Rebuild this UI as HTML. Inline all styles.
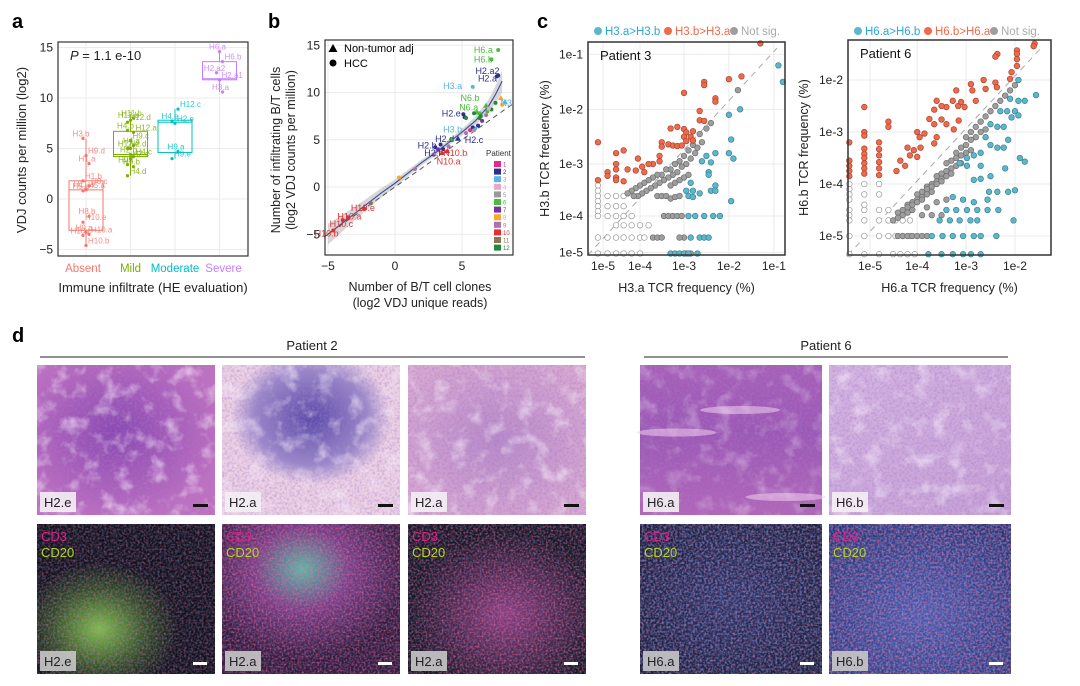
<!DOCTYPE html>
<html><head><meta charset="utf-8">
<style>
html,body{margin:0;padding:0;background:#fff;}
svg{display:block;font-family:"Liberation Sans",Arial,sans-serif;}
</style></head>
<body>
<svg id="fig" width="1080" height="686" viewBox="0 0 1080 686" xmlns="http://www.w3.org/2000/svg">
<defs>
  <filter id="tex" x="0" y="0" width="100%" height="100%">
    <feTurbulence type="fractalNoise" baseFrequency="0.06" numOctaves="4" seed="3"/>
    <feColorMatrix type="matrix" values="0 0 0 0 0.95  0 0 0 0 0.85  0 0 0 0 0.97  0 0 0 -2.6 1.3"/>
  </filter>
  <filter id="texD" x="0" y="0" width="100%" height="100%">
    <feTurbulence type="fractalNoise" baseFrequency="0.4" numOctaves="2" seed="5"/>
    <feColorMatrix type="matrix" values="0 0 0 0 0.35  0 0 0 0 0.2  0 0 0 0 0.6  0 0 0 -2.2 1.3"/>
  </filter>
  <filter id="texB" x="0" y="0" width="100%" height="100%">
    <feTurbulence type="fractalNoise" baseFrequency="0.45" numOctaves="2" seed="7"/>
    <feColorMatrix type="matrix" values="0 0 0 0 0.3  0 0 0 0 0.35  0 0 0 0 0.9  0 0 0 -2.4 1.5"/>
  </filter>
  <filter id="texR" x="0" y="0" width="100%" height="100%">
    <feTurbulence type="fractalNoise" baseFrequency="0.5" numOctaves="1" seed="11"/>
    <feColorMatrix type="matrix" values="0 0 0 0 0.95  0 0 0 0 0.15  0 0 0 0 0.3  0 0 0 -3 1.6"/>
  </filter>
  <radialGradient id="g1" cx="0.45" cy="0.45" r="0.6"><stop offset="0" stop-color="#8a48b0"/><stop offset="1" stop-color="#c070c0"/></radialGradient>
  <radialGradient id="g2" cx="0.5" cy="0.35" r="0.45"><stop offset="0" stop-color="#5a4aa8"/><stop offset="0.7" stop-color="#9a88c8"/><stop offset="1" stop-color="#ecd0e4"/></radialGradient>
  <radialGradient id="g3" cx="0.5" cy="0.5" r="0.6"><stop offset="0" stop-color="#b88ac8"/><stop offset="1" stop-color="#d8a8d0"/></radialGradient>
  <linearGradient id="g4" x1="0" y1="0" x2="0" y2="1"><stop offset="0" stop-color="#a85fb8"/><stop offset="0.45" stop-color="#9c58b4"/><stop offset="1" stop-color="#b266b8"/></linearGradient>
  <linearGradient id="g5" x1="0" y1="0" x2="1" y2="1"><stop offset="0" stop-color="#d4b4e0"/><stop offset="1" stop-color="#c6a0d6"/></linearGradient>
  <radialGradient id="f1" cx="0.35" cy="0.7" r="0.45"><stop offset="0" stop-color="#7ac040"/><stop offset="0.6" stop-color="#304a20"/><stop offset="1" stop-color="#101018"/></radialGradient>
  <radialGradient id="f2" cx="0.45" cy="0.3" r="0.6"><stop offset="0" stop-color="#5ab8a0"/><stop offset="0.45" stop-color="#7a3a80"/><stop offset="1" stop-color="#301838"/></radialGradient>
  <radialGradient id="f3" cx="0.55" cy="0.6" r="0.55"><stop offset="0" stop-color="#8a3a7a"/><stop offset="1" stop-color="#141420"/></radialGradient>
  <radialGradient id="f4" cx="0.5" cy="0.5" r="0.7"><stop offset="0" stop-color="#2a3260"/><stop offset="1" stop-color="#181c34"/></radialGradient>
  <radialGradient id="f5" cx="0.5" cy="0.6" r="0.7"><stop offset="0" stop-color="#4858a8"/><stop offset="1" stop-color="#2a3470"/></radialGradient>
</defs>
<g id="root"></g>
</svg>
<script>
// ---------------- Panel a data ----------------
const aCategories = ["Absent","Mild","Moderate","Severe"];
const aCatColors = ["#f8766d","#7cae00","#00bfc4","#c77cff"];
const aBoxLow = [-3.1, 4.2, 4.6, 11.8];
const aBoxHigh = [1.8, 6.7, 7.8, 13.6];
const aBoxMed = [0.9, 4.4, 7.6, 11.9];
const aLabels = ["H3.b","H9.d","H1.a","H1.b","H11.a","H8.c","H5.b","H5.a","H8.b","H10.e","H9.a","H10.a","H10.c","H10.b",
 "H11.b","H12.d","H12.b","H12.a","H4.b","H9.c","H4.a","H2.d","H12.e","H4.c","H9.f","H2.c","H9.b","H4.d","H2.b",
 "H12.c","H4.e","H2.e","H9.a","H9.e",
 "H6.a","H6.b","H2.a2","H2.a1","H3.a"];
const aCat = [0,0,0,0,0,0,0,0,0,0,0,0,0,0, 1,1,1,1,1,1,1,1,1,1,1,1,1,1,1, 2,2,2,2,2, 3,3,3,3,3];
const aValues = [6.0,4.3,3.5,1.8,1.0,1.3,0.8,0.9,-1.7,-2.3,-3.3,-3.5,-3.6,-4.6,
 8.0,7.6,7.8,6.6,6.8,5.8,5.3,5.0,5.0,4.2,3.4,4.0,3.2,2.3,4.4,
 8.9,7.7,7.5,4.7,4.0,
 14.6,13.6,12.5,11.8,10.6];
const aYTicks = [15,10,5,0,-5];

// ---------------- Panel b data ----------------
const bPatientColors = ["#e7298a","#2c2f8f","#5ab4e5","#e8a8c8","#9a9a9a","#4dbb3c","#7b2fa0","#f7a830","#b070b0","#e03030","#8b7355","#1e8a3a"];
const bX = [7.7,7.2,7.7,7.6,5.8,8.2,7.9,8.0,6.8,7.5,7.2,6.9,6.3,6.1,5.1,5.2,5.3,5.9,6.4,6.3,6.5,6.8,7.0,6.2,6.0,5.6,5.8,5.9,5.3,4.7,4.2,3.0,3.4,3.2,3.6,3.9,3.5,2.9,4.0,1.5,0.3,-1.8,-2.3,-3.5,-3.9,-4.6];
const bY = [14.5,13.5,11.8,11.7,10.6,9.0,9.4,8.7,8.6,8.9,8.2,8.0,7.8,7.9,7.7,7.4,7.3,7.8,7.5,7.3,7.0,7.6,8.3,6.5,6.2,6.0,6.3,6.0,5.7,5.1,5.0,4.2,4.5,4.0,4.0,3.8,3.6,3.4,4.3,1.9,1.0,-1.7,-2.3,-3.2,-3.5,-4.6];
const bPatient = [6,6,2,2,3,3,8,8,6,12,12,6,6,6,2,2,12,12,12,12,7,9,4,2,3,1,2,5,9,2,6,2,2,7,2,10,10,9,9,9,8,11,10,10,10,10];
const bShape = [0,0,0,0,0,1,1,0,1,0,0,0,0,1,0,0,0,0,0,0,0,0,0,0,0,0,0,0,0,1,0,0,0,0,0,1,1,0,0,0,0,0,0,0,0,0];
const bLabelText = ["H6.a","H6.b","H2.a2","H2.a","H3.a","N3","N6.b","N6.a","H2.e","H3.b","H2.c","H2.d","H2.b","H2.f","N10.b","N10.a","H10.e","H10.a","H10.c","H10.b"];
const bLabelX = [6.6,6.6,6.9,6.9,4.3,8.3,5.6,5.5,4.2,4.3,5.9,3.7,2.4,2.8,4.5,4.0,-2.4,-3.4,-4.0,-5.1];
const bLabelY = [14.5,13.5,12.3,11.5,10.7,8.9,9.4,8.4,7.8,6.1,5.0,5.1,4.4,3.6,3.6,2.7,-2.2,-3.1,-3.9,-4.9];
const bLabelPat = [6,6,2,2,3,3,6,6,2,3,2,2,2,2,10,10,10,10,10,10];
const bFitX = [-5,-4,-3,-2,-1,0,1,2,3,4,5,6,7,7.5,8];
const bFitY = [-5,-3.9,-2.8,-1.7,-0.6,0.4,1.5,2.6,3.6,4.7,5.8,7.0,8.6,9.8,11.2];
const bFitSE = [1.1,0.9,0.7,0.6,0.5,0.4,0.35,0.3,0.3,0.3,0.35,0.45,0.7,0.9,1.2];
const bXTicks = [-5,0,5];
const bYTicks = [15,10,5,0,-5];

// ---------------- Panel c data (log10 frequency) ----------------
const c3RedX = [-1.3,-2.55,-2.55,-2.0,-1.72,-3.0,-2.3,-2.3,-2.65,-2.65,-2.55,-3.3,-3.15,-3.0,-2.95,-2.8,-3.0,-2.85,-2.95,-2.8,-3.5,-3.5,-3.35,-3.25,-3.15,-3.05,-3.55,-3.55,-3.7,-4.6,-4.4,-4.05,-3.95,-3.8,-4.6,-4.6,-4.3,-4.1,-3.9,-4.85,-4.85,-4.6,-4.6,-4.4,-5.2,-5.2];
const c3RedY = [-0.8,-1.5,-1.56,-1.45,-1.4,-1.7,-1.8,-1.86,-2.03,-2.2,-2.21,-2.35,-2.32,-2.36,-2.42,-2.4,-2.5,-2.5,-2.58,-2.57,-2.6,-2.68,-2.64,-2.66,-2.67,-2.66,-2.85,-2.95,-3.0,-2.8,-2.75,-2.9,-3.05,-3.0,-3.0,-3.1,-3.1,-3.12,-3.15,-3.15,-3.22,-3.25,-3.3,-3.32,-2.6,-3.3];
const c3BlueX = [-0.9,-0.8,-1.75,-2.0,-1.95,-2.0,-1.9,-2.3,-2.5,-2.6,-2.4,-2.45,-2.45,-2.85,-2.95,-2.8,-2.9,-2.8,-2.65,-2.3,-2.4,-2.3,-1.95,-2.9,-2.75,-2.55,-2.35,-2.2,-2.85,-2.65,-2.55,-2.45,-3.3,-3.2,-3.1,-3.0,-2.9,-2.7];
const c3BlueY = [-1.2,-1.5,-2.0,-2.1,-2.55,-2.8,-2.9,-2.8,-2.85,-2.95,-2.97,-3.15,-3.2,-3.35,-3.5,-3.5,-3.6,-3.62,-3.55,-3.4,-3.5,-3.5,-3.7,-4.0,-4.0,-4.0,-4.0,-4.0,-4.5,-4.5,-4.5,-4.5,-5.05,-5.05,-5.05,-5.05,-5.05,-5.05];
const c3GreyX = [-1.8,-2.4,-2.5,-2.65,-2.6,-2.7,-2.8,-2.9,-2.75,-2.85,-3.0,-3.1,-2.95,-3.05,-3.2,-3.3,-3.15,-3.25,-3.4,-3.5,-3.35,-3.45,-3.6,-3.7,-3.55,-3.65,-3.8,-3.9,-3.75,-3.85,-4.0,-4.1,-3.95,-4.05,-4.2,-4.3,-4.15,-3.3,-3.2,-3.1,-3.0,-2.9,-3.6,-3.5,-3.4,-3.3,-3.2,-3.1,-3.45,-3.35,-3.25,-3.15,-3.05,-3.7,-3.6,-3.5,-2.95,-2.85,-3.0,-3.1];
const c3GreyY = [-1.65,-2.25,-2.35,-2.45,-2.6,-2.7,-2.65,-2.75,-2.8,-2.9,-2.85,-2.95,-3.0,-3.05,-3.0,-3.1,-3.15,-3.2,-3.1,-3.2,-3.25,-3.3,-3.2,-3.25,-3.35,-3.4,-3.3,-3.35,-3.45,-3.5,-3.4,-3.45,-3.55,-3.6,-3.5,-3.55,-3.6,-3.4,-3.35,-3.3,-3.25,-3.2,-3.6,-3.6,-3.6,-3.65,-3.62,-3.6,-4.0,-4.0,-4.0,-4.0,-4.0,-4.5,-4.5,-4.5,-5.05,-5.05,-4.5,-4.5];
const c3OpenX = [-5.2,-5.2,-5.2,-5.2,-5.2,-5.2,-5.2,-5.2,-4.85,-4.6,-4.4,-4.85,-4.6,-4.4,-4.85,-4.6,-4.4,-4.2,-4.85,-4.6,-4.4,-4.2,-4.0,-3.9,-4.6,-4.4,-4.2,-4.0,-4.85,-4.6,-4.4,-4.2,-4.0,-3.8,-5.2];
const c3OpenY = [-3.4,-3.5,-3.6,-3.7,-3.8,-3.9,-4.0,-4.5,-3.6,-3.6,-3.6,-3.8,-3.8,-3.8,-4.0,-4.0,-4.0,-4.0,-4.5,-4.5,-4.5,-4.5,-4.5,-4.5,-5.05,-5.05,-5.05,-5.05,-5.05,-4.2,-4.2,-4.2,-4.2,-4.2,-5.05];

const c6RedX = [-1.6,-1.62,-1.96,-1.96,-1.96,-1.96,-2.36,-2.4,-2.07,-2.1,-2.4,-2.37,-2.64,-2.6,-2.9,-2.87,-3.2,-3.27,-3.16,-3.4,-3.5,-3.65,-3.6,-3.1,-3.03,-2.8,-3.75,-3.65,-3.5,-3.4,-3.25,-3.15,-4.0,-3.95,-3.85,-3.6,-3.65,-4.2,-4.07,-3.93,-4.15,-4.0,-4.35,-4.25,-4.43,-4.6,-4.6,-4.8,-4.8,-4.8,-4.8,-4.8,-4.8,-5.13,-5.13,-5.13,-5.13,-5.13,-5.13,-5.13,-5.13,-5.13,-5.5,-5.5,-5.5,-5.5,-5.5];
const c6RedY = [-1.3,-1.35,-1.43,-1.5,-1.6,-1.73,-1.5,-1.55,-1.85,-1.98,-2.05,-2.14,-2.0,-2.17,-2.08,-2.2,-2.2,-2.4,-2.5,-2.52,-2.5,-2.57,-2.4,-2.42,-2.52,-2.4,-2.75,-2.85,-2.76,-2.85,-2.95,-2.78,-3.0,-3.1,-3.03,-3.1,-3.22,-3.3,-3.35,-3.3,-3.45,-3.48,-3.55,-3.65,-3.75,-2.8,-2.9,-3.2,-3.33,-3.45,-3.58,-3.7,-3.83,-2.52,-3.0,-3.07,-3.32,-3.42,-3.5,-3.6,-3.7,-3.8,-3.2,-3.55,-3.65,-3.75,-3.85];
const c6BlueX = [-1.57,-1.9,-1.8,-1.93,-2.1,-1.93,-1.8,-2.3,-2.16,-2.0,-2.07,-1.93,-2.5,-2.36,-2.23,-2.14,-2.6,-2.5,-2.36,-2.23,-2.7,-2.84,-2.98,-3.13,-2.98,-2.7,-2.2,-2.5,-2.7,-2.84,-2.14,-2.0,-2.36,-2.53,-3.27,-3.06,-2.84,-2.56,-2.34,-3.4,-3.2,-2.98,-2.77,-2.56,-3.54,-3.33,-3.13,-2.91,-2.77,-2.03,-3.7,-3.48,-3.27,-3.06,-2.84,-2.7,-2.38,-3.77,-3.5,-3.27,-3.06,-2.9,-2.7];
const c6BlueY = [-2.29,-3.5,-3.57,-2.0,-2.36,-2.4,-2.4,-2.6,-2.6,-2.6,-2.72,-2.68,-2.85,-2.9,-2.9,-3.15,-3.1,-3.25,-3.3,-3.3,-3.4,-3.45,-3.5,-3.6,-3.65,-3.65,-3.7,-3.85,-3.9,-3.92,-4.15,-4.12,-4.15,-4.15,-4.25,-4.3,-4.35,-4.3,-4.5,-4.5,-4.5,-4.5,-4.5,-4.5,-4.7,-4.7,-4.7,-4.7,-4.7,-4.7,-5.0,-5.0,-5.0,-5.0,-5.0,-5.0,-5.0,-5.35,-5.35,-5.35,-5.35,-5.35,-5.35];
const c6GreyX = [-2.0,-2.1,-2.2,-2.3,-2.4,-2.5,-2.6,-2.7,-2.8,-2.9,-3.0,-2.6,-2.7,-2.8,-2.9,-3.0,-3.1,-3.2,-2.9,-3.0,-3.1,-3.2,-3.3,-3.4,-3.1,-3.2,-3.3,-3.4,-3.5,-3.6,-3.3,-3.4,-3.5,-3.6,-3.7,-3.8,-3.5,-3.6,-3.7,-3.8,-3.9,-4.0,-3.7,-3.8,-3.9,-4.0,-4.1,-4.2,-3.9,-4.0,-4.1,-4.2,-4.3,-4.4,-4.1,-4.2,-4.3,-4.4,-4.5,-3.8,-3.6,-3.4,-3.9,-3.7,-3.5,-4.4,-4.3,-4.2,-4.1,-4.0,-3.9,-3.8];
const c6GreyY = [-2.1,-2.2,-2.3,-2.4,-2.5,-2.6,-2.7,-2.8,-2.9,-3.0,-3.1,-2.95,-3.0,-3.1,-3.15,-3.25,-3.3,-3.4,-3.35,-3.4,-3.45,-3.5,-3.55,-3.6,-3.6,-3.65,-3.7,-3.75,-3.8,-3.85,-3.8,-3.85,-3.9,-3.95,-4.0,-4.05,-3.95,-4.0,-4.05,-4.1,-4.15,-4.2,-4.15,-4.2,-4.25,-4.3,-4.35,-4.4,-4.3,-4.35,-4.4,-4.45,-4.5,-4.55,-4.5,-4.55,-4.6,-4.65,-4.7,-4.45,-4.35,-4.3,-4.6,-4.6,-4.6,-5.0,-5.0,-5.0,-5.0,-5.0,-5.0,-5.0];
const c6OpenX = [-5.5,-5.5,-5.5,-5.5,-5.5,-5.5,-5.5,-5.5,-5.13,-5.13,-5.13,-5.13,-5.13,-5.13,-4.8,-4.8,-4.8,-4.8,-4.8,-4.6,-4.6,-4.6,-4.45,-4.45,-4.3,-4.3,-4.15,-4.15,-4.5,-4.35,-4.2,-4.05,-4.8,-5.13,-5.5];
const c6OpenY = [-4.0,-4.1,-4.2,-4.3,-4.5,-4.7,-5.0,-5.35,-4.0,-4.2,-4.4,-4.5,-4.7,-5.0,-4.0,-4.2,-4.5,-4.7,-5.0,-4.5,-4.7,-5.0,-4.7,-5.0,-4.7,-5.0,-4.7,-5.0,-5.35,-5.35,-5.35,-5.35,-5.35,-5.35,-4.6];
const cTickLabels3X = ["1e-5","1e-4","1e-3","1e-2","1e-1"];
const cTickValues3X = [-5,-4,-3,-2,-1];
const cTickLabels3Y = ["1e-1","1e-2","1e-3","1e-4","1e-5"];
const cTickValues3Y = [-1,-2,-3,-4,-5];
const cTickLabels6X = ["1e-5","1e-4","1e-3","1e-2"];
const cTickValues6X = [-5,-4,-3,-2];
const cTickLabels6Y = ["1e-2","1e-3","1e-4","1e-5"];
const cTickValues6Y = [-2,-3,-4,-5];

const NS = "http://www.w3.org/2000/svg";
const root = document.getElementById("root");
function mk(tag, attrs, parent, txt){
  const e = document.createElementNS(NS, tag);
  for (const k in attrs) e.setAttribute(k, attrs[k]);
  if (txt !== undefined) e.textContent = txt;
  (parent || root).appendChild(e);
  return e;
}
function grp(name){
  const g = mk("g", {});
  
  
  return g;
}
function txt(parent, x, y, s, size, extra){
  const a = Object.assign({x:x, y:y, "font-size":size, fill:"#222"}, extra || {});
  return mk("text", a, parent, s);
}

[["a",12,28],["b",268,28],["c",537,28],["d",12,342]].forEach(l=>{
  const t = txt(root, l[1], l[2], l[0], 20, {"font-weight":"bold", fill:"#000"});
  
  
});

// ================= Panel a =================
(function(){
  const g = grp("panel-a-chart");
  const L=58, R=248, T=42, B=256;
  const ya = v => 199 - 10.1*v;
  const xa = i => 86 + 44.5*i;
  mk("rect",{x:L,y:T,width:R-L,height:B-T,fill:"#fff"},g);
  aYTicks.forEach(v=>{ mk("line",{x1:L,x2:R,y1:ya(v),y2:ya(v),stroke:"#ebebeb","stroke-width":1},g);
    const t=txt(g,53,ya(v)+4,v<0?"\u2212"+(-v):String(v),12,{"text-anchor":"end"});
     });
  aCategories.forEach((c,i)=>{ mk("line",{x1:xa(i),x2:xa(i),y1:T,y2:B,stroke:"#ebebeb"},g);
    const t=txt(g,xa(i)-(i===0?3:0)+(i===3?4:0),272,c,11.5,{"text-anchor":"middle",fill:aCatColors[i]});
     });
  aCategories.forEach((c,i)=>{
    const b = mk("rect",{x:xa(i)-17,y:ya(aBoxHigh[i]),width:34,height:ya(aBoxLow[i])-ya(aBoxHigh[i]),fill:"none",stroke:aCatColors[i],"stroke-width":1},g);
     
    mk("line",{x1:xa(i)-17,x2:xa(i)+17,y1:ya(aBoxMed[i]),y2:ya(aBoxMed[i]),stroke:aCatColors[i]},g);
    const vals = aValues.filter((v,k)=>aCat[k]===i);
    mk("line",{x1:xa(i),x2:xa(i),y1:ya(Math.max(...vals)),y2:ya(aBoxHigh[i]),stroke:aCatColors[i]},g);
    mk("line",{x1:xa(i),x2:xa(i),y1:ya(aBoxLow[i]),y2:ya(Math.min(...vals)),stroke:aCatColors[i]},g);
  });
  aValues.forEach((v,k)=>{
    const i=aCat[k], col=aCatColors[i];
    const off = ((k%3)-1)*3;
    const p = mk("circle",{cx:xa(i)+off,cy:ya(v),r:1.6,fill:col},g);
     
    const right = k%2===0;
    const t = txt(g, xa(i)+off+(right?-2:2), ya(v)-2, aLabels[k], 8, {fill:col,"text-anchor":right?"middle":"start","fill-opacity":0.85});
     
  });
  mk("rect",{x:L,y:T,width:R-L,height:B-T,fill:"none",stroke:"#333","stroke-width":1.2},g);
  const p=txt(g,70,60,"",13,{});
  mk("tspan",{"font-style":"italic"},p,"P");
  mk("tspan",{},p," = 1.1 e-10");
   
  const yt=txt(g,0,0,"VDJ counts per million (log2)",13,{transform:"translate(26,150) rotate(-90)","text-anchor":"middle"});
   
  const xt=txt(g,153,292,"Immune infiltrate (HE evaluation)",13,{"text-anchor":"middle"});
   
})();

// ================= Panel b =================
(function(){
  const g = grp("panel-b-chart");
  const L=325, R=513, T=40, B=255;
  const xb = v => 395 + 13.4*v;
  const yb = v => 187 - 9.45*v;
  bYTicks.forEach(v=>{ mk("line",{x1:L,x2:R,y1:yb(v),y2:yb(v),stroke:"#ebebeb"},g);
    const t=txt(g,320,yb(v)+4,v<0?"\u2212"+(-v):String(v),12,{"text-anchor":"end"});
     });
  bXTicks.forEach(v=>{ mk("line",{x1:xb(v),x2:xb(v),y1:T,y2:B,stroke:"#ebebeb"},g);
    const t=txt(g,xb(v),270,v<0?"\u2212"+(-v):String(v),12,{"text-anchor":"middle"});
     });
  let d="M"+bFitX.map((x,i)=>xb(x)+","+yb(bFitY[i]+bFitSE[i])).join(" L");
  for(let i=bFitX.length-1;i>=0;i--) d+=" L"+xb(bFitX[i])+","+yb(bFitY[i]-bFitSE[i]);
  const band=mk("path",{d:d+"Z",fill:"#bdbdbd","fill-opacity":0.6},g);
   
  const idl=mk("line",{x1:xb(-5.3),y1:yb(-5.3),x2:xb(8.8),y2:yb(8.8),stroke:"#555","stroke-dasharray":"5,4","stroke-width":1},g);
   
  const fit=mk("path",{d:"M"+bFitX.map((x,i)=>xb(x)+","+yb(bFitY[i])).join(" L"),fill:"none",stroke:"#4050a0","stroke-width":1.2},g);
   
  bX.forEach((x,i)=>{
    const col=bPatientColors[bPatient[i]-1];
    let e;
    if(bShape[i]===1){ const cx=xb(x), cy=yb(bY[i]);
      e=mk("path",{d:`M${cx},${cy-3} L${cx+3},${cy+2} L${cx-3},${cy+2}Z`,fill:col},g);
    } else e=mk("circle",{cx:xb(x),cy:yb(bY[i]),r:2,fill:col},g);
     
  });
  bLabelText.forEach((s,i)=>{
    const t=txt(g,xb(bLabelX[i]),yb(bLabelY[i])+3,s,9,{fill:bPatientColors[bLabelPat[i]-1],"text-anchor":"middle"});
     
  });
  mk("rect",{x:L,y:T,width:R-L,height:B-T,fill:"none",stroke:"#333","stroke-width":1.2},g);
  const lg=grp("shape-legend");
  mk("path",{d:"M333,44 L337.5,52 L328.5,52Z",fill:"#000"},lg);
  txt(lg,344,52,"Non-tumor adj",11,{fill:"#000"});
  mk("circle",{cx:333,cy:63,r:3.5,fill:"#000"},lg);
  txt(lg,344,67,"HCC",11,{fill:"#000"});
  const pl=grp("patient-legend");
  txt(pl,486,156,"Patient",8,{fill:"#333"});
  bPatientColors.forEach((c,i)=>{
    const r=mk("rect",{x:494,y:161+i*7.6,width:7,height:6,fill:c},pl);
     
    txt(pl,503,166.5+i*7.6,String(i+1),6,{fill:c});
  });
  const yt1=txt(g,0,0,"Number of infiltrating B/T cells",12.5,{transform:"translate(280,150) rotate(-90)","text-anchor":"middle"});
   
  const yt2=txt(g,0,0,"(log2 VDJ counts per million)",12.5,{transform:"translate(295,150) rotate(-90)","text-anchor":"middle"});
   
  const xt1=txt(g,420,291,"Number of B/T cell clones",12.5,{"text-anchor":"middle"});
   
  const xt2=txt(g,420,307,"(log2 VDJ unique reads)",12.5,{"text-anchor":"middle"});
   
})();

// ================= Panel c =================
function scatterPanel(o){
  const g = grp(o.name);
  const xs = lv => o.xAnchor + o.kx*(Math.log10(Math.pow(10,lv)+o.cx) - Math.log10(1e-3+o.cx));
  const ys = lv => o.yAnchor - o.ky*(Math.log10(Math.pow(10,lv)+o.cy) - Math.log10(1e-3+o.cy));
  mk("rect",{x:o.L,y:o.T,width:o.R-o.L,height:o.B-o.T,fill:"#fff"},g);
  o.xv.forEach((v,i)=>{ mk("line",{x1:xs(v),x2:xs(v),y1:o.T,y2:o.B,stroke:"#ebebeb"},g);
    const t=txt(g,xs(v),o.B+15,o.xl[i],12,{"text-anchor":"middle"});
     });
  o.yv.forEach((v,i)=>{ mk("line",{x1:o.L,x2:o.R,y1:ys(v),y2:ys(v),stroke:"#ebebeb"},g);
    const t=txt(g,o.L-5,ys(v)+4,o.yl[i],12,{"text-anchor":"end"});
     });
  const dg=mk("line",{x1:o.L,y1:o.B,x2:o.R-8,y2:o.T+6,stroke:"#aaa","stroke-dasharray":"6,5"},g);
   
  function pts(X,Y,fill,stroke,name){
    X.forEach((x,i)=>{
      const px=Math.max(o.L,Math.min(o.R,xs(x))), py=Math.max(o.T,Math.min(o.B,ys(Y[i])));
      const c=mk("circle",{cx:px,cy:py,r:2.8,fill:fill,stroke:stroke,"stroke-width":0.7},g);
       
    });
  }
  pts(o.openX,o.openY,"#fff","#999","clone-point-zero");
  pts(o.greyX,o.greyY,"#9e9e9e","#6e6e6e","clone-point-not-sig");
  pts(o.blueX,o.blueY,"#5bb8cc","#3a7f90","clone-point-a-greater");
  pts(o.redX,o.redY,"#ee6a4a","#a84430","clone-point-b-greater");
  mk("rect",{x:o.L,y:o.T,width:o.R-o.L,height:o.B-o.T,fill:"none",stroke:"#333","stroke-width":1.5},g);
  const pt=txt(g,o.L+12,o.T+18,o.patient,13,{fill:"#111"});
   
  const items=[[o.leg[0],"#5bb8cc","#2aa8d0"],[o.leg[1],"#ee6a4a","#ee6a4a"],["Not sig.","#9e9e9e","#aaa"]];
  let cx=o.legX;
  items.forEach((it,i)=>{
    const c=mk("circle",{cx:cx,cy:31,r:4,fill:it[1]},g);
     
    const t=txt(g,cx+7,35,it[0],11.5,{fill:it[2]});
     
    cx+= o.legStep[i];
  });
  const yt=txt(g,0,0,o.yTitle,12.5,{transform:`translate(${o.yTitleX},${(o.T+o.B)/2}) rotate(-90)`,"text-anchor":"middle"});
   
  const xt=txt(g,(o.L+o.R)/2,292,o.xTitle,12.5,{"text-anchor":"middle"});
   
}
scatterPanel({name:"panel-c-patient3-scatter",L:588,R:785,T:42,B:255,xAnchor:684,kx:45,cx:0.6e-5,yAnchor:164,ky:55,cy:1.5e-5,
  xv:cTickValues3X,xl:cTickLabels3X,yv:cTickValues3Y,yl:cTickLabels3Y,
  redX:c3RedX,redY:c3RedY,blueX:c3BlueX,blueY:c3BlueY,greyX:c3GreyX,greyY:c3GreyY,openX:c3OpenX,openY:c3OpenY,
  patient:"Patient 3",leg:["H3.a>H3.b","H3.b>H3.a"],legX:598,legStep:[70,66,0],
  yTitle:"H3.b TCR frequency (%)",yTitleX:549,xTitle:"H3.a TCR frequency (%)"});
scatterPanel({name:"panel-c-patient6-scatter",L:848,R:1051,T:40,B:255,xAnchor:966,kx:49,cx:1e-6,yAnchor:132,ky:52,cy:0,
  xv:cTickValues6X,xl:cTickLabels6X,yv:cTickValues6Y,yl:cTickLabels6Y,
  redX:c6RedX,redY:c6RedY,blueX:c6BlueX,blueY:c6BlueY,greyX:c6GreyX,greyY:c6GreyY,openX:c6OpenX,openY:c6OpenY,
  patient:"Patient 6",leg:["H6.a>H6.b","H6.b>H6.a"],legX:858,legStep:[70,66,0],
  yTitle:"H6.b TCR frequency (%)",yTitleX:808,xTitle:"H6.a TCR frequency (%)"});

// ================= Panel d =================
(function(){
  const g=grp("panel-d-images");
  const h1=txt(g,312,350,"Patient 2",13,{"text-anchor":"middle"});
   
  mk("line",{x1:40,x2:585,y1:357,y2:357,stroke:"#222","stroke-width":1},g);
  const h2=txt(g,826,350,"Patient 6",13,{"text-anchor":"middle"});
   
  mk("line",{x1:644,x2:1008,y1:357,y2:357,stroke:"#222","stroke-width":1},g);
  const cols=[[37,178],[222,178],[408,178],[640,182],[829,182]];
  const he=["g1","g2","g3","g4","g5"], fl=["f1","f2","f3","f4","f5"];
  const labs=["H2.e","H2.a","H2.a","H6.a","H6.b"];
  cols.forEach((c,i)=>{
    const [x,w]=c;
    const top=grp("he-image-"+labs[i]);
    mk("rect",{x:x,y:365,width:w,height:150,fill:"url(#"+he[i]+")"},top);
    mk("rect",{x:x,y:365,width:w,height:150,filter:"url(#texD)",opacity:0.5},top);
    mk("rect",{x:x,y:365,width:w,height:150,filter:"url(#tex)",opacity:i===3?0.35:0.6},top);
    if(i===3){ [[0.2,0.45],[0.55,0.3],[0.8,0.88]].forEach(s=>mk("ellipse",{cx:x+w*s[0],cy:365+150*s[1],rx:w*0.22,ry:4,fill:"#f0d0ec",opacity:0.55},top)); }
    mk("rect",{x:x+3,y:365+150-23,width:36,height:20,fill:"#f4eef4",opacity:0.9},top);
    txt(top,x+7,365+150-8,labs[i],13,{fill:"#222"});
    mk("rect",{x:x+w-22,y:365+150-11,width:15,height:3,fill:"#111"},top);
    const bot=grp("if-image-"+labs[i]);
    mk("rect",{x:x,y:524,width:w,height:150,fill:"url(#"+fl[i]+")"},bot);
    mk("rect",{x:x,y:524,width:w,height:150,filter:"url(#texB)",opacity:i>=3?0.6:0.35},bot);
    mk("rect",{x:x,y:524,width:w,height:150,filter:"url(#texR)",opacity:i===1||i===2||i===4?0.5:0.3},bot);
    txt(bot,x+4,541,"CD3",13,{fill:"#e0208a"});
    txt(bot,x+4,557,"CD20",13,{fill:"#b0d820"});
    mk("rect",{x:x+3,y:524+150-23,width:36,height:20,fill:"#c8c8c8",opacity:0.9},bot);
    txt(bot,x+7,524+150-8,labs[i],13,{fill:"#222"});
    mk("rect",{x:x+w-22,y:524+150-12,width:14,height:3,fill:"#fff"},bot);
  });
})();
</script>
</body></html>
